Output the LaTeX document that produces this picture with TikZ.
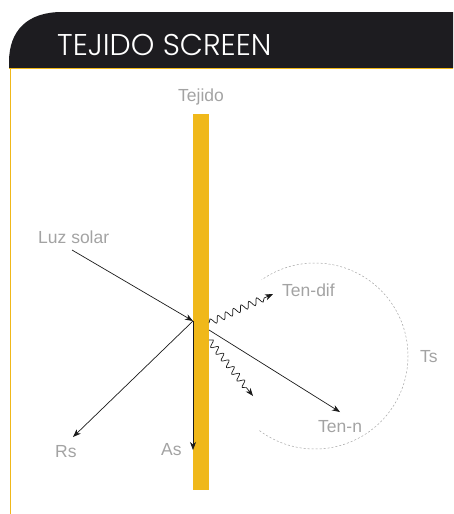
\documentclass[tikz,border=0pt]{standalone}
\usepackage{fontspec}
\setmainfont{Liberation Sans}
\newfontfamily\lightfont{Poppins Light}
\usetikzlibrary{arrows.meta,decorations.pathmorphing}
\definecolor{tyellow}{HTML}{F0B81A}
\definecolor{thead}{HTML}{1D1C20}
\definecolor{tlabel}{HTML}{A3A3A3}
\definecolor{tray}{HTML}{1A1A1A}
\tikzset{
  lbl/.style={text=tlabel, font=\fontsize{17.5}{17.5}\selectfont, inner sep=0pt, anchor=base west},
  ray/.style={draw=tray, line width=0.7pt, -{Stealth[length=8pt,width=6pt,inset=2.5pt]}},
  wavy/.style={ray, decorate, decoration={snake, amplitude=3.3pt, segment length=8.5pt, post length=7pt}},
  dashcirc/.style={draw=tlabel, line width=0.5pt, dash pattern=on 2pt off 2pt}
}
\begin{document}
\begin{tikzpicture}[x=1pt,y=-1pt]
\useasboundingbox (0,0) rectangle (453,514);
% header
\fill[thead] (9,68) -- (9,62) .. controls (9,30) and (28,12) .. (62,12) -- (453,12) -- (453,68) -- cycle;
\draw[tyellow, line width=0.8pt] (9,68.5) -- (453,68.5);
\draw[tyellow, line width=1pt] (10,68) -- (10,514);
\node[anchor=base west, text=white, inner sep=0pt, font=\lightfont\fontsize{30}{30}\selectfont] (title) at (57,55) {TEJIDO SCREEN};
% fabric
\fill[tyellow] (193,114) rectangle (209,490);
\node[lbl] (tejido) at (178,101) {Tejido};
% points
\coordinate (hit) at (193,321);
\coordinate (src) at (72,250);
\coordinate (rs) at (73,437);
\coordinate (as) at (193,450);
\coordinate (tn0) at (209,330);
\coordinate (tn) at (340,412);
\coordinate (td0) at (209,323);
\coordinate (td) at (273,294);
\coordinate (tw0) at (209,340);
\coordinate (tw) at (253,396);
% rays
\draw[ray] (src) -- (hit);
\draw[ray] (hit) -- (rs);
\draw[ray] (hit) -- (as);
\draw[ray] (tn0) -- (tn);
\draw[wavy] (td0) -- (td);
\draw[wavy] (tw0) -- (tw);
% dashed arc
\draw[dashcirc] (315,356) ++(126.6:93) arc[start angle=126.6, end angle=-125, radius=93];
% labels
\node[lbl] (luz) at (38,243) {Luz solar};
\node[lbl] (rslbl) at (55,457) {Rs};
\node[lbl] (aslbl) at (161,455) {As};
\node[lbl] (tdlbl) at (282,296) {Ten-dif};
\node[lbl] (tnlbl) at (318,432) {Ten-n};
\node[lbl] (tslbl) at (420,362) {Ts};
\end{tikzpicture}
\end{document}
